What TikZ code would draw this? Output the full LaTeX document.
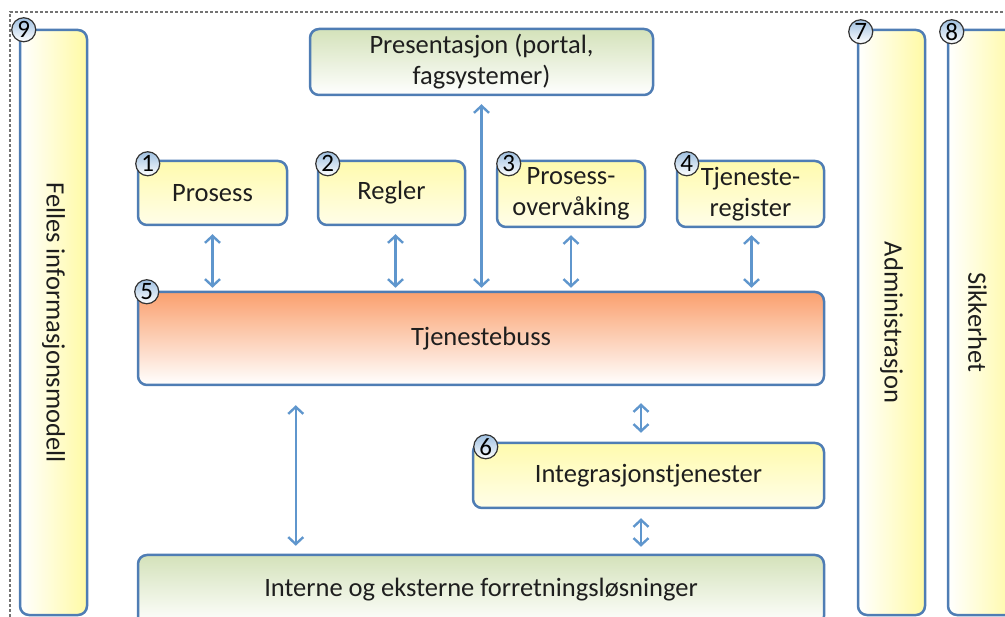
\documentclass[tikz,border=0pt]{standalone}
\usepackage{fontspec}
\setmainfont{Carlito}
\usetikzlibrary{arrows.meta,positioning}
\definecolor{bdx}{RGB}{79,125,180}
\definecolor{arx}{RGB}{95,150,205}
\definecolor{yex}{RGB}{255,250,165}
\definecolor{grx}{RGB}{212,226,186}
\definecolor{orx}{RGB}{250,160,110}
\definecolor{txx}{RGB}{30,30,30}

\begin{document}
\begin{tikzpicture}[x=1pt,y=-1pt,
        box/.style={draw=bdx,line width=2.5pt,rounded corners=9pt,inner sep=0pt,align=center,
            text=txx,font=\fontsize{26.5}{31}\selectfont},
        yebox/.style={box,top color=yex!90,bottom color=yex!25},
        grbox/.style={box,top color=grx,bottom color=white},
        tallbox/.style={box,minimum width=67pt,minimum height=585pt,left color=white,right color=yex},
        sidetext/.style={rotate=-90,text=txx,font=\fontsize{26.5}{31}\selectfont},
        num/.style={circle,draw=black!80,line width=1.2pt,inner sep=0pt,minimum size=24pt,
            top color=arx!60,bottom color=white,font=\fontsize{25}{25}\selectfont},
        link/.style={arx,line width=2.4pt,{Straight Barb[length=7pt,width=15pt]}-{Straight Barb[length=7pt,width=15pt]}},
    ]
    \clip (0,0) rectangle (1005,617);
    \draw [black!55,densely dashed,line width=1.2pt] (10,617) |- (1005,12);

    % side columns
    \node [tallbox] (felles) at (53.5,322.5) {};
    \node [tallbox] (admin) at (891.5,322.5) {};
    \node [tallbox] (sikker) at (981.5,322.5) {};
    \node [sidetext] (fellestxt) at (felles) {Felles informasjonsmodell};
    \node [sidetext] (admintxt) at (admin) {Administrasjon};
    \node [sidetext] (sikkertxt) at ([xshift=-4pt]sikker) {Sikkerhet};

    % middle
    \node [grbox,minimum width=343pt,minimum height=66pt] (pres) at (481.5,62) {Presentasjon (portal,\\fagsystemer)};
    \node [yebox,minimum width=149pt,minimum height=64pt] (prosess) at (212.5,193) {Prosess};
    \node [yebox,minimum width=147pt,minimum height=64pt] (regler) at (391.5,193) {Regler};
    \node [yebox,minimum width=148pt,minimum height=66pt] (overv) at (571,194) {Prosess-\\overvåking};
    \node [yebox,minimum width=147pt,minimum height=66pt] (tjreg) at (750.5,194) {Tjeneste-\\register};
    \node [box,top color=orx,bottom color=white,minimum width=686pt,minimum height=93pt] (buss) at (481,338.5) {Tjenestebuss};
    \node [yebox,minimum width=351pt,minimum height=65pt] (integ) at (648.5,475.5) {Integrasjonstjenester};
    \node [grbox,minimum width=686pt,minimum height=70pt] (forr) at (481,590) {Interne og eksterne forretningsløsninger};

    \node [num] (n9) at ([xshift=5pt,yshift=-1pt]felles.north west) {9};
    \node [num] (n7) at ([xshift=4pt,yshift=-3pt]admin.north west) {7};
    \node [num] (n8) at ([xshift=5pt,yshift=-3pt]sikker.north west) {8};
    \node [num] (n1) at ([xshift=11pt,yshift=-4pt]prosess.north west) {1};
    \node [num] (n2) at ([xshift=11pt,yshift=-4pt]regler.north west) {2};
    \node [num] (n3) at ([xshift=13pt,yshift=-4pt]overv.north west) {3};
    \node [num] (n4) at ([xshift=11pt,yshift=-4pt]tjreg.north west) {4};
    \node [num] (n5) at ([xshift=10pt,yshift=-1pt]buss.north west) {5};
    \node [num] (n6) at ([xshift=14pt,yshift=-5pt]integ.north west) {6};

    \draw [link] ([yshift=-8pt]pres.south) -- ([yshift=3pt]pres.south |- buss.north);
    \draw [link] ([yshift=-8pt]prosess.south) -- ([yshift=3pt]prosess.south |- buss.north);
    \draw [link] ([xshift=4pt,yshift=-8pt]regler.south) -- ([xshift=4pt,yshift=3pt]regler.south |- buss.north);
    \draw [link] ([yshift=-7pt]overv.south) -- ([yshift=3pt]overv.south |- buss.north);
    \draw [link] ([xshift=1pt,yshift=-7pt]tjreg.south) -- ([xshift=1pt,yshift=3pt]tjreg.south |- buss.north);
    \draw [link] ([xshift=159pt,yshift=-19pt]buss.south west) -- ([xshift=159pt,yshift=8pt]forr.north west);
    \draw [link] ([xshift=160pt,yshift=-17pt]buss.south) -- ([xshift=-7.5pt,yshift=9pt]integ.north);
    \draw [link] ([xshift=-7.5pt,yshift=-9pt]integ.south) -- ([xshift=160pt,yshift=7pt]forr.north);
\end{tikzpicture}
\end{document}
